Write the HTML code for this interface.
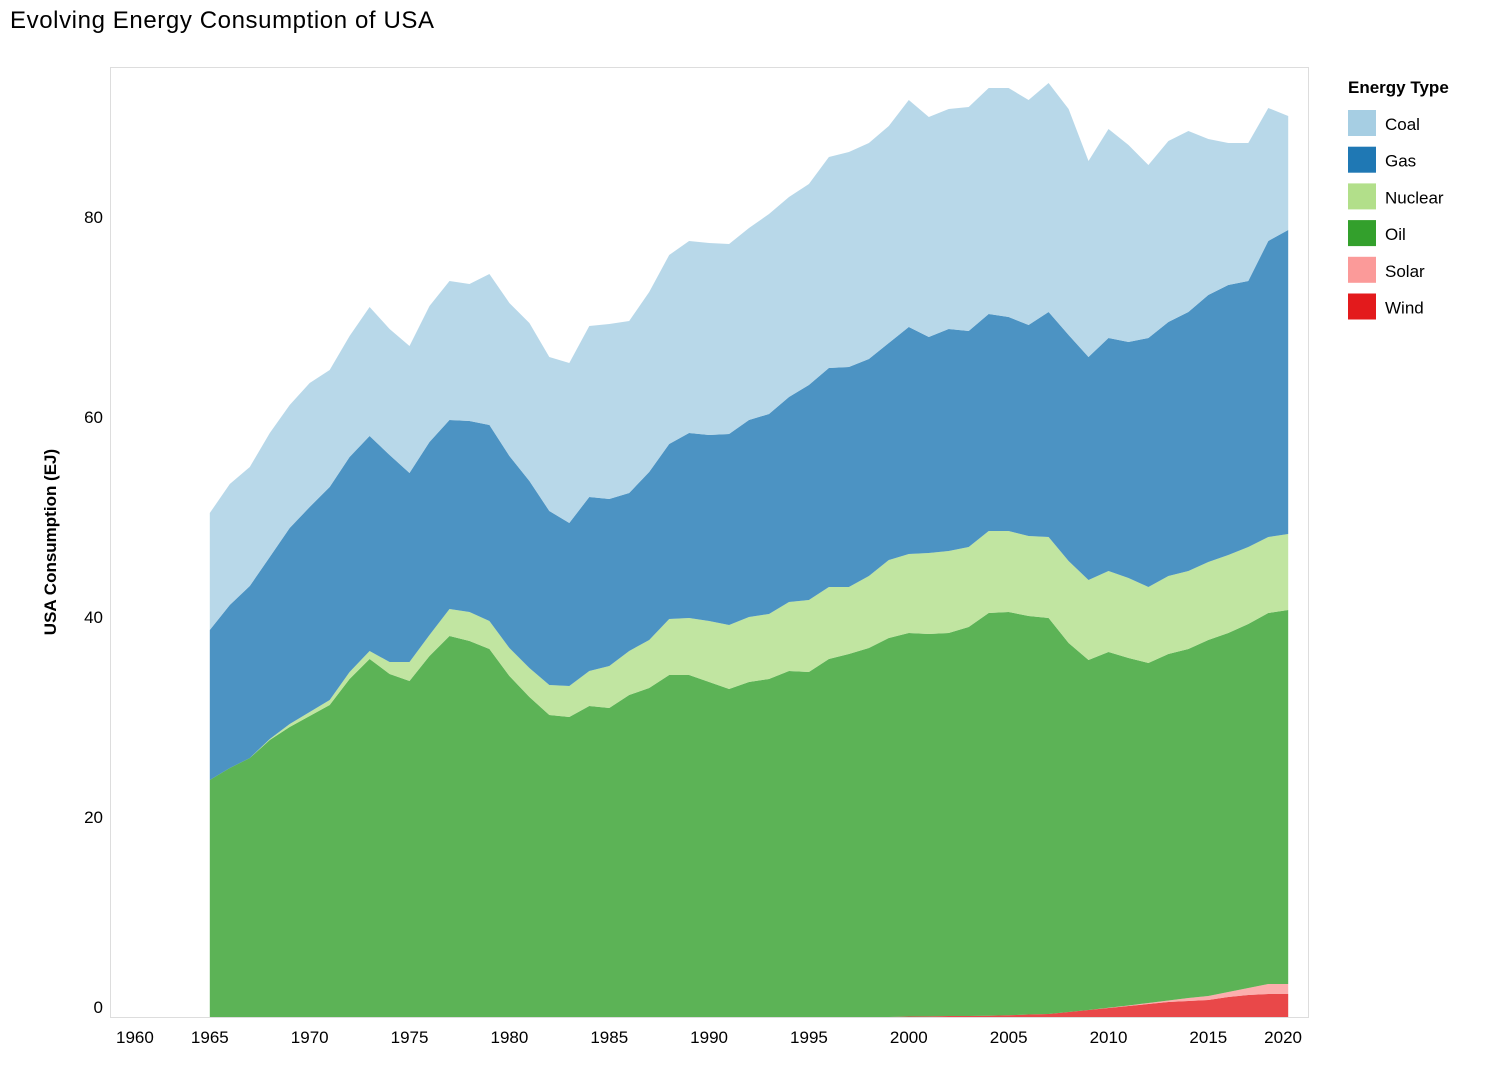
<!DOCTYPE html>
<html><head><meta charset="utf-8"><style>
body{margin:0;background:#fff;font-family:"Liberation Sans",sans-serif;}
svg text{font-family:"Liberation Sans",sans-serif;}
</style></head><body>
<svg id="chart" width="1492" height="1080">
<text x="10" y="28" font-size="24" letter-spacing="0.6" fill="#000">Evolving Energy Consumption of USA</text>
<rect x="110.5" y="67.5" width="1198" height="950" fill="none" stroke="#ddd"/>
<g id="areas"></g>
<g id="axes"></g>
<text transform="translate(56,542) rotate(-90)" text-anchor="middle" font-size="17" font-weight="bold" fill="#000">USA Consumption (EJ)</text>
<g id="legend"></g>
</svg>
<script>
const years = [];
for (let y = 1965; y <= 2019; y++) years.push(y);
const wind = [0,0,0,0,0,0,0,0,0,0,0,0,0,0,0,0,0,0,0,0,0,0,0,0,0,0,0,0,0,0,0,0,0,0,0,0.05,0.06,0.1,0.1,0.13,0.17,0.25,0.3,0.5,0.7,0.9,1.1,1.3,1.5,1.6,1.7,2.0,2.2,2.3,2.3];
const solar = [0,0,0,0,0,0,0,0,0,0,0,0,0,0,0,0,0,0,0,0,0,0,0,0,0,0,0,0,0,0,0,0,0,0,0,0,0,0,0,0,0,0,0,0,0,0.03,0.05,0.1,0.15,0.3,0.4,0.5,0.7,1.0,1.0];
const oil = [23.7,24.9,25.9,27.7,29.0,30.1,31.2,33.8,35.8,34.3,33.6,36.1,38.1,37.6,36.8,34.1,32.0,30.2,30.0,31.1,30.9,32.2,32.9,34.2,34.2,33.5,32.8,33.5,33.8,34.6,34.5,35.8,36.3,36.9,37.9,38.35,38.24,38.3,38.9,40.27,40.33,39.85,39.6,36.9,35.0,35.57,34.75,34.0,34.65,34.9,35.6,35.9,36.4,37.1,37.4];
const nuclear = [0,0,0,0.1,0.3,0.4,0.5,0.7,0.8,1.2,1.9,2.1,2.7,2.9,2.8,2.8,2.9,3.0,3.1,3.5,4.2,4.4,4.8,5.6,5.7,6.1,6.4,6.5,6.5,6.9,7.2,7.2,6.7,7.2,7.8,7.9,8.1,8.2,8.0,8.2,8.1,8.0,8.1,8.2,8.0,8.1,8.0,7.6,7.8,7.8,7.8,7.8,7.7,7.6,7.6];
const gas = [15.0,16.3,17.2,18.2,19.6,20.5,21.3,21.5,21.5,20.7,18.9,19.3,18.9,19.1,19.6,19.2,18.7,17.4,16.3,17.4,16.7,15.8,16.8,17.5,18.5,18.6,19.1,19.7,20.0,20.5,21.5,21.9,22.0,21.7,21.7,22.7,21.6,22.2,21.6,21.7,21.4,21.1,22.5,22.6,22.3,23.3,23.6,24.9,25.4,25.9,26.7,27.0,26.6,29.6,30.4];
const coal = [11.7,12.1,11.9,12.4,12.3,12.4,11.7,12.1,12.9,12.6,12.7,13.6,13.9,13.7,15.1,15.3,15.8,15.4,16.0,17.1,17.5,17.2,18.0,18.9,19.2,19.2,19.0,19.2,20.0,20.0,20.1,21.1,21.5,21.6,21.7,22.7,22.0,22.0,22.4,22.6,22.9,22.5,22.9,22.6,19.6,20.9,19.7,17.3,18.1,18.1,15.6,14.2,13.8,13.3,11.4];
const seriesNames = ["Wind","Solar","Oil","Nuclear","Gas","Coal"];
const seriesColors = ["#e31a1c","#fb9a99","#33a02c","#b2df8a","#1f78b4","#a6cee3"];
const xTicks = [1960,1965,1970,1975,1980,1985,1990,1995,2000,2005,2010,2015,2020];
const yTicks = [0,20,40,60,80];

const NS = "http://www.w3.org/2000/svg";
const xs = yr => 110 + (yr - 1960) * 19.97;
const ys = v => 1017 - v * 10;
const seriesData = [wind, solar, oil, nuclear, gas, coal];
const base = years.map(() => 0);
const areas = document.getElementById('areas');
seriesData.forEach((s, k) => {
  const lower = base.slice();
  const upper = base.map((b, i) => b + s[i]);
  let d = "M" + years.map((y, i) => xs(y).toFixed(1) + "," + ys(upper[i]).toFixed(1)).join("L");
  for (let i = years.length - 1; i >= 0; i--) d += "L" + xs(years[i]).toFixed(1) + "," + ys(lower[i]).toFixed(1);
  d += "Z";
  const p = document.createElementNS(NS, 'path');
  p.setAttribute('d', d);
  p.setAttribute('fill', seriesColors[k]);
  p.setAttribute('fill-opacity', '0.8');
  
  
  areas.appendChild(p);
  upper.forEach((u, i) => base[i] = u);
});
const axes = document.getElementById('axes');
xTicks.forEach(t => {
  const tx = document.createElementNS(NS, 'text');
  let x = xs(t), anchor = 'middle';
  if (t === 1960) { x = 116; anchor = 'start'; }
  if (t === 2020) { x = 1302; anchor = 'end'; }
  tx.setAttribute('x', x); tx.setAttribute('y', 1043);
  tx.setAttribute('text-anchor', anchor); tx.setAttribute('font-size', '17');
  tx.textContent = t;
  
  
  axes.appendChild(tx);
});
yTicks.forEach(t => {
  const tx = document.createElementNS(NS, 'text');
  let y = ys(t) + 6;
  if (t === 0) y = 1013;
  tx.setAttribute('x', 103); tx.setAttribute('y', y);
  tx.setAttribute('text-anchor', 'end'); tx.setAttribute('font-size', '17');
  tx.textContent = t;
  
  
  axes.appendChild(tx);
});
const lg = document.getElementById('legend');
const lt = document.createElementNS(NS, 'text');
lt.setAttribute('x', 1348); lt.setAttribute('y', 93);
lt.setAttribute('font-size', '17'); lt.setAttribute('font-weight', 'bold');
lt.textContent = 'Energy Type';


lg.appendChild(lt);
const order = [5,4,3,2,1,0];
order.forEach((k, j) => {
  const g = document.createElementNS(NS, 'g');
  
  
  const r = document.createElementNS(NS, 'rect');
  r.setAttribute('x', 1348); r.setAttribute('y', 110 + j * 36.7);
  r.setAttribute('width', 28); r.setAttribute('height', 26);
  r.setAttribute('fill', seriesColors[k]);
  g.appendChild(r);
  const t = document.createElementNS(NS, 'text');
  t.setAttribute('x', 1385); t.setAttribute('y', 130 + j * 36.7);
  t.setAttribute('font-size', '17');
  t.textContent = seriesNames[k];
  g.appendChild(t);
  lg.appendChild(g);
});
</script>
</body></html>
